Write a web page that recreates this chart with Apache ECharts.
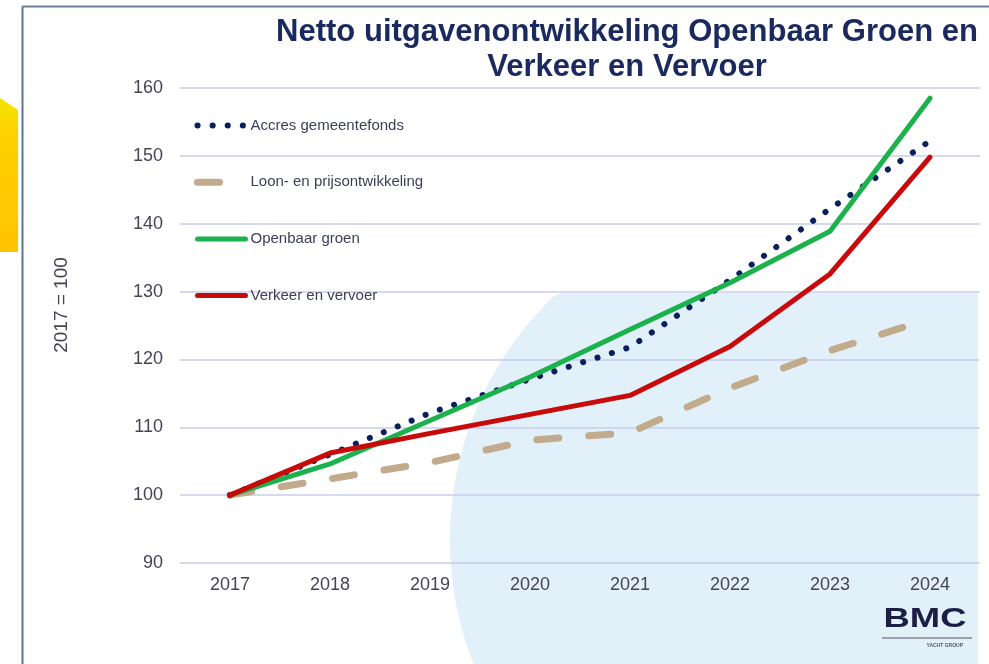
<!DOCTYPE html>
<html>
<head>
<meta charset="utf-8">
<script src="https://cdn.jsdelivr.net/npm/echarts@6/dist/echarts.min.js"></script>
<style>
html,body{margin:0;padding:0;background:#fff;}
#chart{width:989px;height:664px;}
</style>
</head>
<body>
<div id="chart"></div>
<script>
const years = ['2017', '2018', '2019', '2020', '2021', '2022', '2023', '2024'];
const accres = [100, 106.0, 112.1, 117.1, 121.8, 131.7, 142.2, 152.2];
const loonPrijs = [100, 102.4, 104.8, 108.1, 109.2, 115.8, 121.3, 126.0];
const openbaarGroen = [100, 104.6, 111.0, 117.4, 124.4, 131.3, 138.9, 158.5];
const verkeerVervoer = [100, 106.2, 109.1, 111.9, 114.7, 121.9, 132.6, 149.8];
const seriesNames = ['Accres gemeentefonds', 'Loon- en prijsontwikkeling', 'Openbaar groen', 'Verkeer en vervoer'];
const titleLines = ['Netto uitgavenontwikkeling Openbaar Groen en', 'Verkeer en Vervoer'];
const yAxisTitle = '2017 = 100';

// background decoration (light blue disc clipped at top/right)
const disc = { cx: 788, cy: 540, r: 338, top: 293, right: 978 };
const discPts = [];
for (let i = 0; i < 360; i += 2) {
  const a = i * Math.PI / 180;
  const x = disc.cx + disc.r * Math.cos(a);
  const y = disc.cy + disc.r * Math.sin(a);
  discPts.push([Math.min(x, disc.right), Math.max(y, disc.top)]);
}

// condensed title: scale a bold face horizontally to the reference width
const titleFont = 'bold 32px "Liberation Sans"';
const ctx = document.createElement('canvas').getContext('2d');
ctx.font = titleFont;
const titleScale = 702 / ctx.measureText(titleLines[0]).width;

const lineStyles = [
  { color: '#0b1f5e', width: 6, type: [0.1, 15], cap: 'round' },
  { color: '#c2ab8c', width: 7, type: [22, 30], cap: 'round' },
  { color: '#1bb14c', width: 5, type: 'solid', cap: 'round', join: 'round' },
  { color: '#c80a0a', width: 5, type: 'solid', cap: 'round', join: 'round' }
];
const seriesData = [accres, loonPrijs, openbaarGroen, verkeerVervoer];
const zOrder = [3, 2, 4, 5];

const chart = echarts.init(document.getElementById('chart'), null, { renderer: 'canvas' });
const axisFont = 'Liberation Sans';
chart.setOption({
  backgroundColor: '#ffffff',
  animation: false,
  grid: { left: 180, right: 9, top: 88, bottom: 101, containLabel: false },
  legend: {
    orient: 'vertical', left: 189, top: 113,
    itemWidth: 48, itemHeight: 14, itemGap: 41.7,
    itemStyle: { opacity: 0 },
    textStyle: { fontSize: 15, color: '#3b3f55', fontFamily: axisFont },
    data: seriesNames.map((n, i) => ({ name: n, lineStyle: Object.assign({}, lineStyles[i]) }))
  },
  xAxis: {
    type: 'category', data: years, boundaryGap: true,
    axisLine: { show: false }, axisTick: { show: false },
    axisLabel: { fontSize: 18, color: '#454555', margin: 13, fontFamily: axisFont }
  },
  yAxis: {
    type: 'value', min: 90, max: 160, interval: 10,
    axisLine: { show: false }, axisTick: { show: false },
    axisLabel: { fontSize: 18, color: '#454555', margin: 17, fontFamily: axisFont },
    splitLine: { lineStyle: { color: '#c9cdea', width: 1.5 } }
  },
  series: seriesNames.map((n, i) => ({
    name: n, type: 'line', data: seriesData[i], symbol: 'none', z: zOrder[i],
    lineStyle: lineStyles[i], itemStyle: { color: lineStyles[i].color }
  })),
  graphic: [
    { type: 'polygon', z: -100, silent: true, shape: { points: discPts },
      style: { fill: '#e1f0f9' } },
    { type: 'polygon', z: -90, silent: true,
      shape: { points: [[0, 98], [18, 110], [18, 252], [0, 252]] },
      style: { fill: new echarts.graphic.LinearGradient(0, 0, 0, 1, [
        { offset: 0, color: '#f2e400' }, { offset: 0.25, color: '#ffd000' }, { offset: 1, color: '#ffc400' }]) } },
    { type: 'line', z: 100, silent: true, shape: { x1: 22.5, y1: 6.5, x2: 22.5, y2: 664 },
      style: { stroke: '#5d7590', lineWidth: 2 } },
    { type: 'line', z: 100, silent: true, shape: { x1: 22, y1: 6.5, x2: 989, y2: 6.5 },
      style: { stroke: '#6d809a', lineWidth: 2 } },
    { type: 'text', z: 100, x: 627, y: 15, scaleX: titleScale, silent: true,
      style: { text: titleLines.join('\n'), align: 'center', verticalAlign: 'top',
        font: titleFont, lineHeight: 35, fill: '#1b2a5e' } },
    { type: 'text', z: 100, x: 62, y: 305, rotation: Math.PI / 2, silent: true,
      style: { text: yAxisTitle, align: 'center', verticalAlign: 'middle',
        font: '19px "Liberation Sans"', fill: '#454555' } },
    { type: 'text', z: 100, x: 925, y: 620, scaleX: 1.35, silent: true,
      style: { text: 'BMC', align: 'center', verticalAlign: 'middle',
        font: 'bold 27px "Liberation Sans"', fill: '#1c1f45' } },
    { type: 'line', z: 100, silent: true, shape: { x1: 882, y1: 638, x2: 972, y2: 638 },
      style: { stroke: '#9aa3ad', lineWidth: 2 } },
    { type: 'text', z: 100, x: 963, y: 646, silent: true,
      style: { text: 'YACHT GROUP', align: 'right', verticalAlign: 'middle',
        font: 'bold 5px "Liberation Sans"', fill: '#555a6a' } }
  ]
});
</script>
</body>
</html>
